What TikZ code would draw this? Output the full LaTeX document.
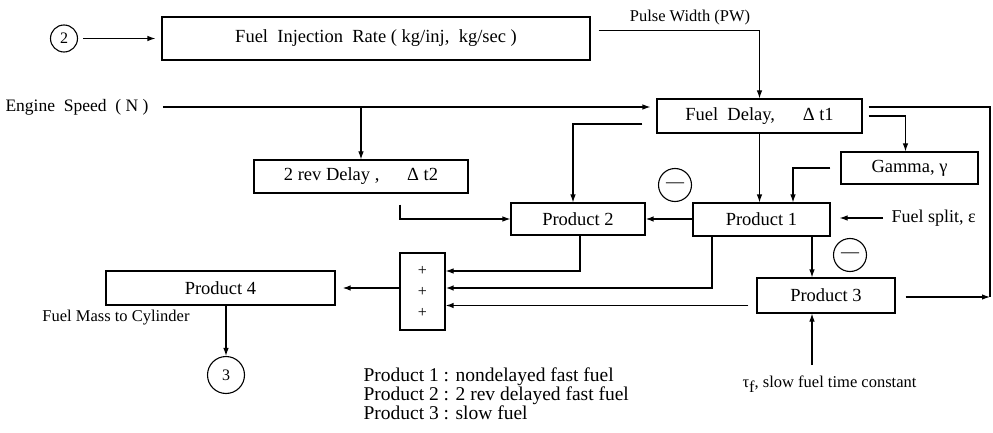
\documentclass[tikz,border=0pt]{standalone}
\usepackage{fontspec}
\setmainfont{Liberation Serif}
\usetikzlibrary{arrows.meta,calc}
\begin{document}
\begin{tikzpicture}[x=1pt,y=-1pt,
  line width=1.1pt,
  arr/.style={-{Latex[length=8pt,width=5.5pt]}},
  blk/.style={draw,rectangle,inner sep=0pt,font=\fontsize{18.5}{20}\selectfont},
  smalltxt/.style={inner sep=0pt,font=\fontsize{16.5}{18}\selectfont},
  circ/.style={draw,circle,inner sep=0pt,font=\fontsize{16}{16}\selectfont},
  minuscirc/.style={draw,circle,inner sep=0pt,minimum size=33pt,font=\fontsize{18}{18}\selectfont},
  thickpath/.style={line width=1.6pt},
  medpath/.style={line width=1.35pt}
]
\useasboundingbox (0,0) rectangle (993,433);

% blocks
\node[blk,minimum width=428pt,minimum height=43pt] (inj) at (376,38.5) {Fuel\ \ Injection\ \ Rate ( kg/inj,\ \ kg/sec )};
\node[blk,minimum width=205pt,minimum height=34pt] (fd) at (759.5,116) {Fuel\ \ Delay,\quad\ \ Δ t1};
\node[blk,minimum width=214pt,minimum height=33pt] (rev2) at (361,176.5) {2 rev Delay ,\quad\ \ Δ t2};
\node[blk,minimum width=134pt,minimum height=32pt] (p2) at (578,219) {Product 2};
\node[blk,minimum width=137pt,minimum height=33pt] (p1) at (761.5,219.5) {Product 1};
\node[blk,minimum width=137pt,minimum height=32pt] (gam) at (909.5,168) {Gamma, γ};
\node[blk,minimum width=138pt,minimum height=35pt] (p3) at (826,295.5) {Product 3};
\node[blk,minimum width=229pt,minimum height=34pt] (p4) at (220.5,288) {Product 4};
\node[draw,rectangle,inner sep=0pt,minimum width=45pt,minimum height=77pt,align=center,
      font=\fontsize{16}{21}\selectfont] (sum) at (422.5,291.5) {+\\+\\+};

% circles
\node[circ,minimum size=27pt] (c2) at (64,38.5) {2};
\node[circ,minimum size=37pt] (c3) at (226,375) {3};
\node[minuscirc] (m1) at (675,185) {—};
\node[minuscirc] (m2) at (850,255) {—};

% labels
\node[smalltxt] (pw) at (690,18) {Pulse Width (PW)};
\node[inner sep=0pt,anchor=west,font=\fontsize{17.5}{19}\selectfont] (es) at (5,107) {Engine\ \ Speed\ \ ( N )};
\node[inner sep=0pt,anchor=west,font=\fontsize{18}{18}\selectfont] (fs) at (891,218) {Fuel split, ε};
\node[smalltxt] (fm) at (116,318) {Fuel Mass to Cylinder};
\node[smalltxt,anchor=west] (tau) at (742,384) {τ\raisebox{-5pt}{f}, slow fuel time constant};
\node[inner sep=0pt,anchor=west,align=left,font=\fontsize{19.5}{19}\selectfont] (leg) at (363,394)
  {Product 1 : nondelayed fast fuel\\Product 2 : 2 rev delayed fast fuel\\Product 3 : slow fuel};

\coordinate (loop) at (990,297);
\coordinate (taustart) at (812,365);

% connectors
\draw[arr,shorten <=5pt,shorten >=6pt] (c2.east) -- (inj.west);
\draw[arr,shorten <=8pt] ($(inj.north east)+(0,14)$) -| (fd.north);
\draw[arr,shorten <=14pt,shorten >=6pt] (es.east) -- (es.east -| fd.west);
\draw[arr] (rev2.north |- es.east) -- (rev2.north);
\draw[arr,shorten <=11pt] ([xshift=39pt]rev2.south) |- (p2.west);
\draw[arr,medpath] (p1.west |- p2.east) -- (p2.east);
\draw[arr,shorten <=14pt] ([yshift=-8pt]fd.west) -| ([xshift=-5pt]p2.north);
\draw[arr] (fd.south) -- (fd.south |- p1.north);
\draw[arr,shorten <=6pt] (fd.east) -| ([xshift=-4pt]gam.north);
\draw[arr,shorten <=10pt] (gam.west) -| ([xshift=31.5pt]p1.north);
\draw[shorten <=6pt] ([yshift=9pt]fd.east) -| (loop);
\draw[arr,shorten <=10pt] (p3.east |- loop) -- (loop);
\draw[arr,shorten <=8pt,shorten >=9pt] (fs.west) -- (fs.west -| p1.east);
\draw[arr] ([xshift=50.5pt]p1.south) -- ([xshift=50.5pt]p1.south |- p3.north);
\draw[arr] (taustart) -- (taustart |- p3.south);
\draw[arr] ([xshift=2pt]p2.south) |- ([yshift=20.5pt]sum.east);
\draw[arr,thickpath] ([xshift=-49.5pt]p1.south) |- ([yshift=3.5pt]sum.east);
\draw[arr,medpath,shorten <=8pt] ([yshift=-10pt]p3.west) -- ([yshift=-10pt]p3.west -| sum.east);
\draw[arr,medpath,shorten >=7pt] ([yshift=3.5pt]sum.west) -- ([yshift=3.5pt]sum.west -| p4.east);
\draw[arr] (c3.north |- p4.south) -- (c3.north);
\end{tikzpicture}
\end{document}
